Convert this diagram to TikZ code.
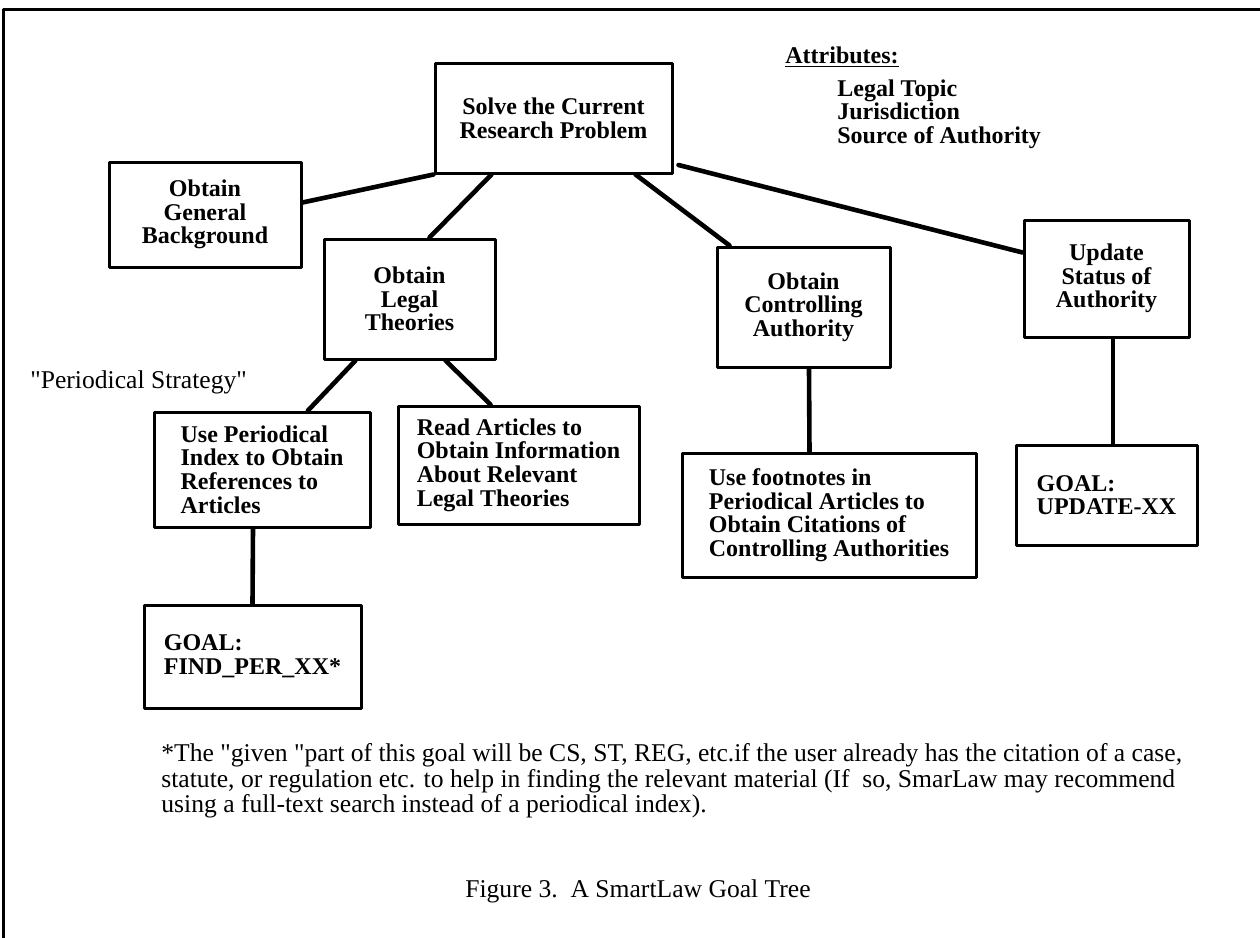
\documentclass[tikz,border=0pt]{standalone}
\usepackage{fontspec}
\setmainfont{Liberation Serif}
\newfontfamily\plainq{Liberation Serif}[Ligatures=TeXOff]
\newcommand{\qmark}{{\plainq\symbol{34}}}
\begin{document}
\begin{tikzpicture}[x=0.5pt, y=-0.5pt, line join=round, line cap=round,
		font=\fontsize{12.8}{11}\selectfont,
		goal/.style 2 args={draw, line width=1.5pt, inner sep=0pt, font=\fontsize{12}{11.8}\selectfont\bfseries, minimum width=#1pt, minimum height=#2pt},
		link/.style={line width=2.3pt}]
			\useasboundingbox (0,0) rectangle (1260,938);
			\draw[line width=1.5pt] (1260,9)--(3,9)--(3,938);
				% the goals
				\node[goal={118.5}{55}, align=center] (root) at (553.5,118) {Solve the Current\\Research Problem};
				\node[goal={96}{52.5}, align=center] (back) at (205,214.5) {Obtain\\General\\Background};
				\node[goal={85.5}{60}, align=center] (theo) at (409.5,299) {Obtain\\Legal\\Theories};
				\node[goal={86.5}{60}, align=center] (ctrl) at (803.5,307) {Obtain\\Controlling\\Authority};
				\node[goal={82.5}{58.5}, align=center] (upd) at (1106.5,278.5) {Update\\Status of\\Authority};
				\node[goal={108}{57.5}, align=left] (index) at (262,469.5) {Use Periodical\\Index to Obtain\\References to\\Articles};
				\node[goal={120.5}{59}, align=left] (read) at (518.5,465) {Read Articles to\\Obtain Information\\About Relevant\\Legal Theories};
				\node[goal={147}{62}, align=left] (foot) at (829,515) {Use footnotes in\\Periodical Articles to\\Obtain Citations of\\Controlling Authorities};
				\node[goal={90.5}{50}, align=left] (gupd) at (1106.5,495) {GOAL:\\UPDATE-XX};
				\node[goal={108.5}{51.5}, align=left] (gper) at (252.5,656.5) {GOAL:\\FIND\_PER\_XX*};
			\draw[link] (root.south west)--([yshift=6pt]back.east);
			\draw[link] ([xshift=-31pt]root.south)--([xshift=10pt]theo.north);
			\draw[link] ([xshift=41pt]root.south)--([xshift=-37pt]ctrl.north);
			\draw[link] ([xshift=2.5pt,yshift=-23.5pt]root.east)--([yshift=13pt]upd.west);
			\draw[link] ([xshift=-27pt]theo.south)--([xshift=23pt]index.north);
			\draw[link] ([xshift=18pt]theo.south)--([xshift=-14pt]read.north);
			\draw[link] ([xshift=2.75pt]ctrl.south)--([xshift=-9.75pt]foot.north);
			\draw[link] ([xshift=3.25pt]upd.south)--([xshift=3.25pt]gupd.north);
			\draw[link] ([xshift=-4.5pt]index.south)--(gper.north);
				% texts
				\node[anchor=west, inner xsep=0pt, font=\fontsize{12}{11.8}\selectfont\bfseries] (attr) at (785,57) {\underline{Attributes:}};
				\node[anchor=west, inner xsep=0pt, align=left, font=\fontsize{12}{11.8}\selectfont\bfseries] (attrs) at (837,114) {Legal Topic\\Jurisdiction\\Source of Authority};
				\node[anchor=west, inner xsep=0pt] (strat) at (30,382) {\qmark Periodical Strategy\qmark};
				\node[anchor=west, inner xsep=0pt, align=left] (note) at (161,781) {*The \qmark given \qmark part of this goal will be CS, ST, REG, etc.if the user already has the citation of a case,\\statute, or regulation etc. to help in finding the relevant material (If\ \ so, SmarLaw may recommend\\using a full-text search instead of a periodical index).};
				\node (caption) at (638,891) {Figure 3.\ \ A SmartLaw Goal Tree};
\end{tikzpicture}
\end{document}
